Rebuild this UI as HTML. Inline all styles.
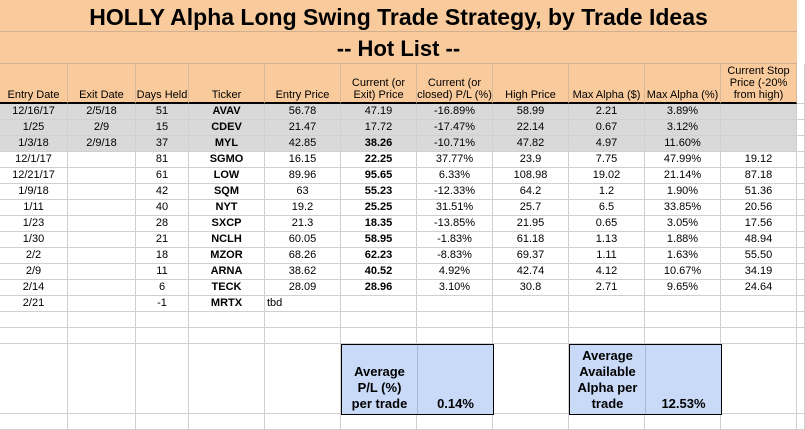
<!DOCTYPE html>
<html><head><meta charset="utf-8"><style>
body{margin:0;background:#fff;width:805px;height:426px;overflow:hidden;font-family:"Liberation Sans",Arial,sans-serif}
#sheet{position:relative;width:805px;height:426px}
.c{position:absolute;box-sizing:border-box;border-right:1px solid #d0d0d0;border-bottom:1px solid #d0d0d0;font-size:11px;color:#000;display:flex;align-items:flex-end;justify-content:center;text-align:center;padding-bottom:1px;line-height:12px;overflow:hidden;white-space:nowrap}
.t{position:absolute;left:0;width:797px;background:#f9cb9c;border-bottom:1px solid #d0b090;font-weight:bold;text-align:center;box-sizing:border-box}
</style></head><body>
<div id="sheet">
<div class="t" style="top:0;height:32px;font-size:23px;line-height:34px">HOLLY Alpha Long Swing Trade Strategy, by Trade Ideas</div>
<div class="t" style="top:32px;height:32px;font-size:22px;line-height:34px">-- Hot List --</div>
</div>
<script>
const X=[0,68,136,189,265,341,417,493,569,645,721,797,805];
const headers=["Entry Date","Exit Date","Days Held","Ticker","Entry Price","Current (or<br>Exit) Price","Current (or<br>closed) P/L (%)","High Price","Max Alpha ($)","Max Alpha (%)","Current Stop<br>Price (-20%<br>from high)"];
const tradeRows=[
["12/16/17","2/5/18","51","AVAV","56.78","47.19","-16.89%","58.99","2.21","3.89%",""],
["1/25","2/9","15","CDEV","21.47","17.72","-17.47%","22.14","0.67","3.12%",""],
["1/3/18","2/9/18","37","MYL","42.85","38.26","-10.71%","47.82","4.97","11.60%",""],
["12/1/17","","81","SGMO","16.15","22.25","37.77%","23.9","7.75","47.99%","19.12"],
["12/21/17","","61","LOW","89.96","95.65","6.33%","108.98","19.02","21.14%","87.18"],
["1/9/18","","42","SQM","63","55.23","-12.33%","64.2","1.2","1.90%","51.36"],
["1/11","","40","NYT","19.2","25.25","31.51%","25.7","6.5","33.85%","20.56"],
["1/23","","28","SXCP","21.3","18.35","-13.85%","21.95","0.65","3.05%","17.56"],
["1/30","","21","NCLH","60.05","58.95","-1.83%","61.18","1.13","1.88%","48.94"],
["2/2","","18","MZOR","68.26","62.23","-8.83%","69.37","1.11","1.63%","55.50"],
["2/9","","11","ARNA","38.62","40.52","4.92%","42.74","4.12","10.67%","34.19"],
["2/14","","6","TECK","28.09","28.96","3.10%","30.8","2.71","9.65%","24.64"],
["2/21","","-1","MRTX","tbd","","","","","",""]];
const S=document.getElementById('sheet');
function cell(ci,y,h,html){const d=document.createElement('div');d.className='c';
d.style.left=X[ci]+'px';d.style.top=y+'px';d.style.width=(X[ci+1]-X[ci])+'px';d.style.height=h+'px';d.innerHTML=html;S.appendChild(d);return d;}
for(let c=0;c<12;c++){const d=cell(c,64,40,c<11?headers[c]:'');


if(c<11){d.style.background='#f9cb9c';d.style.borderBottom='2px solid #000';d.style.borderRight='1px solid #d8b898';}}
tradeRows.forEach((r,i)=>{const y=104+i*16;for(let c=0;c<12;c++){const v=c<11?r[c]:'';const d=cell(c,y,16,v);


d.style.alignItems='center';
if(i<3&&c<11)d.style.background='#d9d9d9';
if(c===3||(c===5&&i>=2))d.style.fontWeight='bold';
if(v==='tbd'){d.style.justifyContent='flex-start';d.style.paddingLeft='2px';}}});
const gridY=[312,328];gridY.forEach(y=>{for(let c=0;c<12;c++){const d=cell(c,y,16,'');

}});
for(let c=0;c<12;c++){const d=cell(c,344,70,'');

}
for(let c=0;c<12;c++){const d=cell(c,414,16,'');

}
function box(x,w,label,val,name){const b=document.createElement('div');


b.style.cssText=`position:absolute;left:${x}px;top:344px;width:${w}px;height:71px;box-sizing:border-box;border:1px solid #000;background:#c9daf8;display:flex;font-weight:bold;font-size:13px;line-height:16px`;
b.innerHTML=`<div style="width:75px;border-right:1px solid #a8b8d8;display:flex;align-items:flex-end;justify-content:center;text-align:center;padding-bottom:2px">${label}</div><div style="flex:1;display:flex;align-items:flex-end;justify-content:center;padding-bottom:2px">${val}</div>`;S.appendChild(b);}
box(341,153,'Average<br>P/L (%)<br>per trade','0.14%','avg-pl-box');
box(569,153,'Average<br>Available<br>Alpha per<br>trade','12.53%','avg-alpha-box');
</script>
</body></html>
